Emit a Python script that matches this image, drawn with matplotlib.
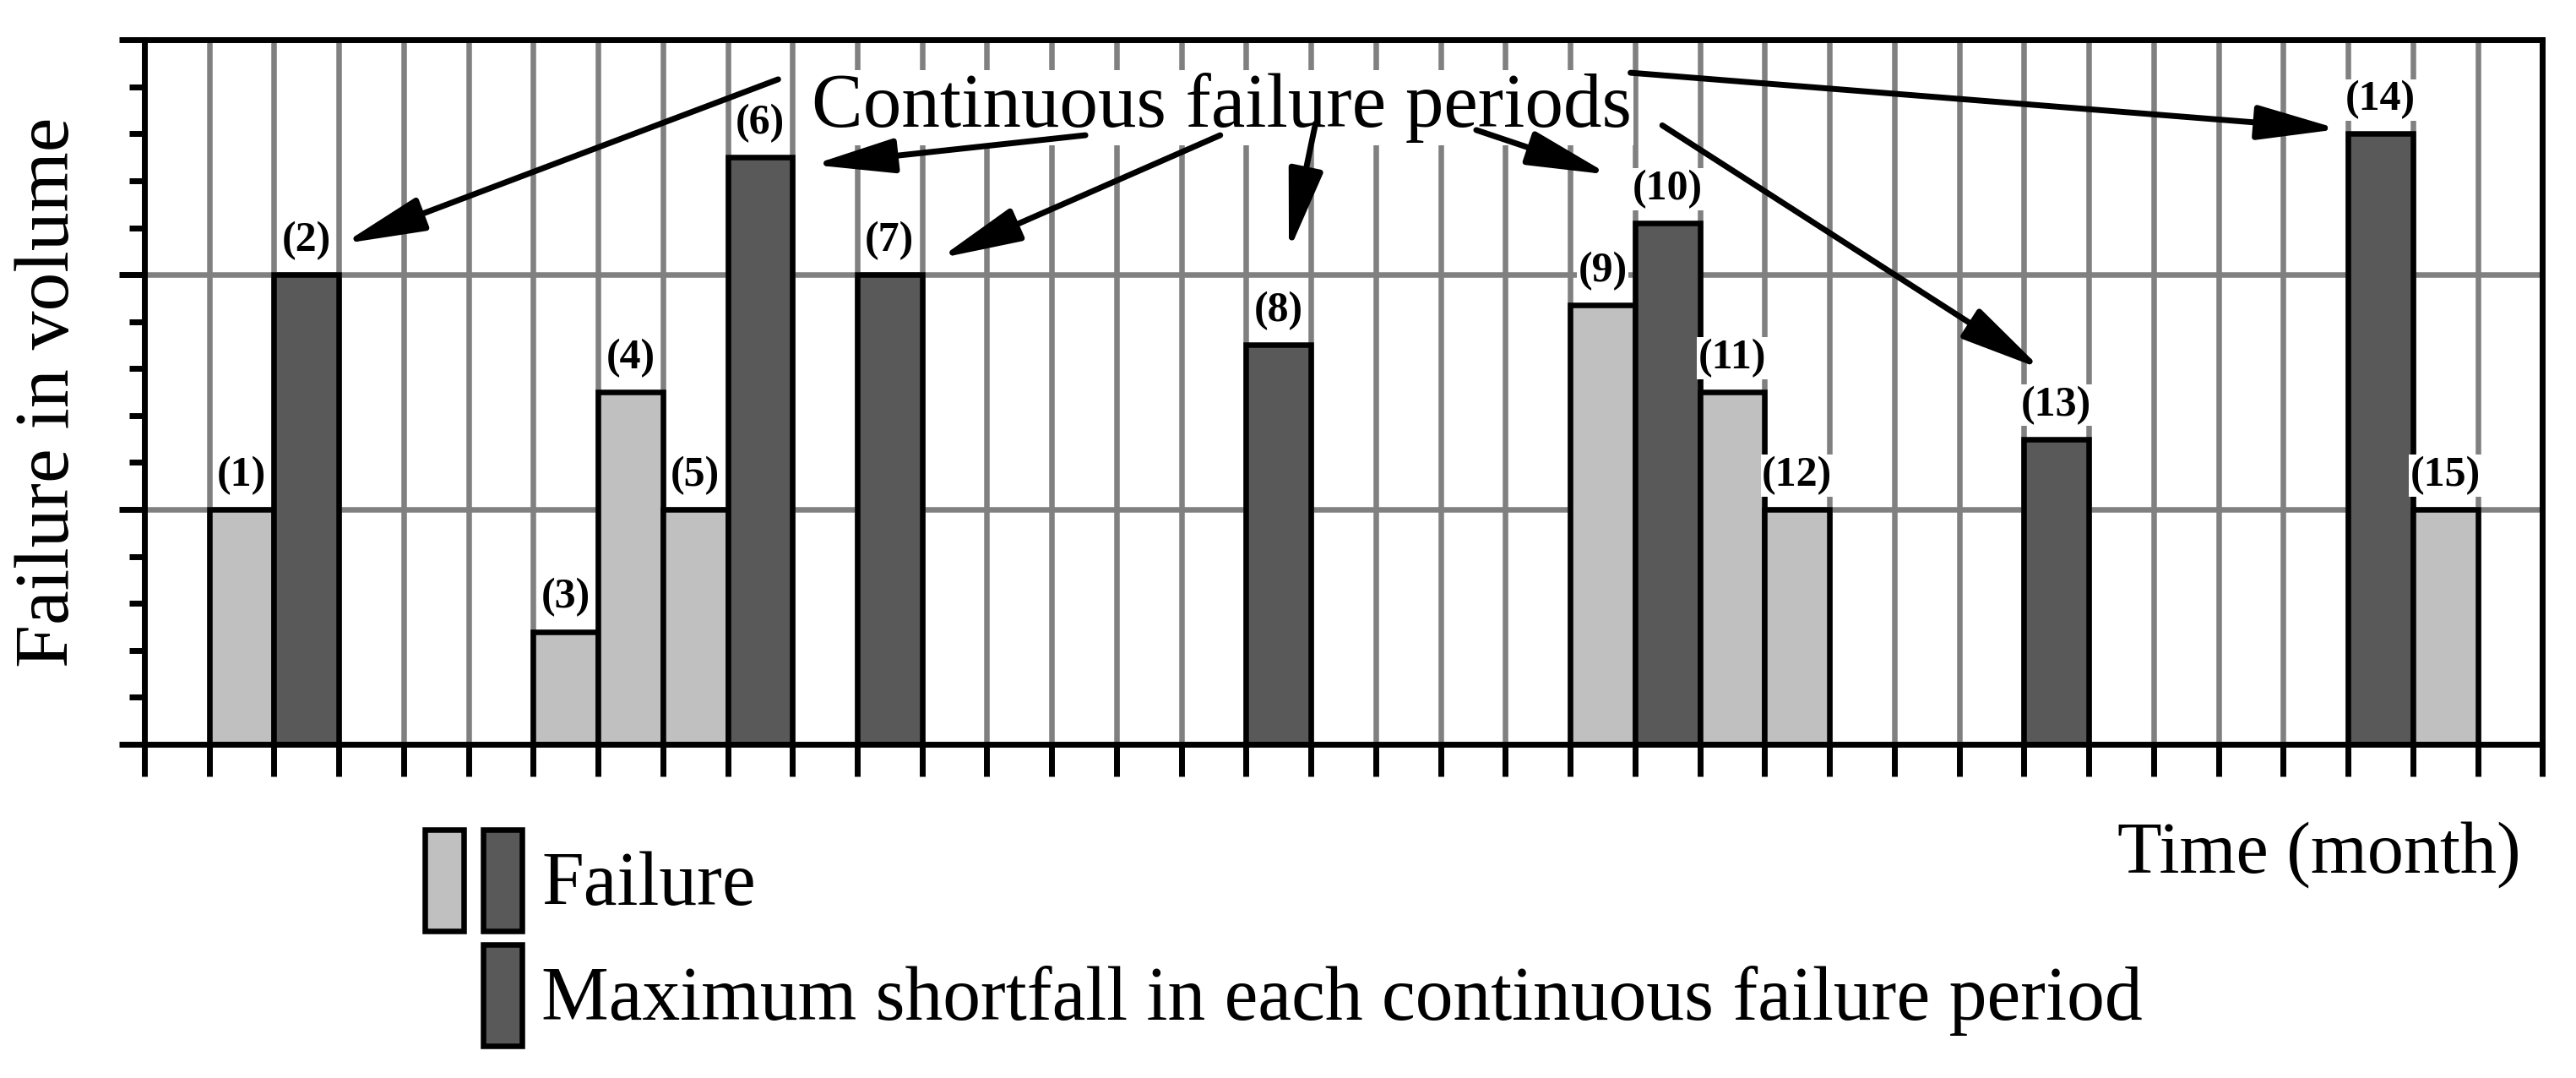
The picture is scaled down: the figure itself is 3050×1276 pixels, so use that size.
import matplotlib
matplotlib.use("Agg")
import matplotlib.pyplot as plt
from matplotlib.patches import Patch
from matplotlib.legend_handler import HandlerTuple

plt.rcParams['font.family'] = ['Liberation Serif', 'DejaVu Serif']

# left edge (month) of every failure bar and its height
months = [1, 2, 6, 7, 8, 9, 11, 17, 22, 23, 24, 25, 29, 34, 35]
failure = [5, 10, 2.4, 7.5, 5, 12.5, 10, 8.5, 9.35, 11.1, 7.5, 5, 6.5, 13, 5]
is_max = [False, True, False, False, False, True, True, True,
          False, True, False, False, True, True, False]
bar_labels = ['(%d)' % (i + 1) for i in range(len(months))]
n_months = 37
y_top = 15

# arrows from the "Continuous failure periods" note to the max bars
arrow_target = [1, 5, 6, 7, 9, 13, 12]
arrow_tail_x = [9.78, 14.52, 16.6, 18.07, 20.55, 22.93, 23.42]
arrow_tail_y = [14.16, 12.97, 12.97, 13.22, 13.08, 14.3, 13.18]
head_dx = [1.07, 1.31, 1.27, 0.66, -0.4, -0.14, 0.27]
head_dy = [0.66, -0.16, 0.35, 2.0, 1.03, 0.1, 1.49]

light = '#c0c0c0'
dark = '#595959'
grid_gray = '#808080'

fig = plt.figure(figsize=(30.5, 12.76), dpi=100)
ax = fig.add_axes([0.056, 0.3096, 0.931, 0.6534])

colors = [dark if m else light for m in is_max]
ax.bar(months, failure, width=1, align='edge', color=colors,
       edgecolor='black', linewidth=4.7, zorder=3)

for x, v, lab in zip(months, failure, bar_labels):
    ax.text(x + 0.5, v + 0.72, lab, ha='center', va='center', fontsize=36,
            fontweight='bold', zorder=4,
            bbox=dict(facecolor='white', edgecolor='none', pad=1))

ax.text(16.62, 13.15, 'Continuous failure periods', ha='center',
        va='baseline', fontsize=65.5, zorder=4,
        bbox=dict(facecolor='white', edgecolor='none', pad=2))

for t, tx, ty, dx, dy in zip(arrow_target, arrow_tail_x, arrow_tail_y, head_dx, head_dy):
    ax.annotate('', xy=(months[t] + dx, failure[t] + dy), xytext=(tx, ty),
                arrowprops=dict(arrowstyle='-|>,head_length=5.9,head_width=1.25',
                                mutation_scale=10, lw=5, color='black',
                                shrinkA=0, shrinkB=0), zorder=5)

ax.set_xlim(0, n_months)
ax.set_ylim(0, y_top)
ax.set_xticks(range(n_months + 1))
ax.set_yticks(range(0, y_top + 1, 5))
ax.set_yticks([v for v in range(y_top + 1) if v % 5], minor=True)
ax.set_xticklabels([])
ax.set_yticklabels([])
ax.tick_params(axis='x', direction='out', length=27, width=5)
ax.tick_params(axis='y', which='major', direction='out', length=21.6, width=5)
ax.tick_params(axis='y', which='minor', direction='out', length=13, width=5)

for xg in range(1, n_months):
    ax.axvline(xg, color=grid_gray, lw=4.7, zorder=1)
for yg in (5, 10):
    ax.axhline(yg, color=grid_gray, lw=4.7, zorder=1)

for s in ax.spines.values():
    s.set_linewidth(5)
    s.set_zorder(6)

ax.set_ylabel('Failure in volume', fontsize=66, labelpad=26)
ax.set_xlabel('Time (month)', fontsize=62, x=0.991, ha='right', labelpad=36)

# legend
fs = 64.5
blank = Patch(facecolor='none', edgecolor='none')
p_light = Patch(facecolor=light, edgecolor='black', linewidth=4.7)
p_dark = Patch(facecolor=dark, edgecolor='black', linewidth=4.7)
fig.legend(handles=[(p_light, p_dark), (blank, p_dark)],
           labels=['Failure', 'Maximum shortfall in each continuous failure period'],
           handler_map={tuple: HandlerTuple(ndivide=None, pad=0.257)},
           loc='upper left', bbox_to_anchor=(0.165, 0.2304), frameon=False,
           fontsize=fs, handlelength=1.28, handleheight=1.68,
           handletextpad=0.257, labelspacing=0.18, borderpad=0, borderaxespad=0)

fig.savefig('out.png', dpi=100)
